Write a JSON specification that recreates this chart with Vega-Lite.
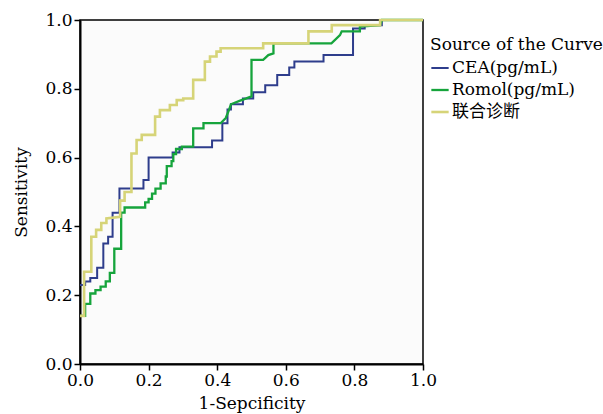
{
  "$schema": "https://vega.github.io/schema/vega-lite/v6.json",
  "width": 343,
  "height": 344,
  "autosize": {"type": "none"},
  "padding": {"left": 80, "top": 20, "right": 180, "bottom": 50},
  "background": "white",
  "config": {
    "view": {"fill": "#fbfbfb", "stroke": "#000", "strokeWidth": 1.5},
    "font": "DejaVu Serif",
    "axis": {"domainColor": "#000", "domainWidth": 2, "tickColor": "#000", "tickWidth": 1.5, "tickSize": 6, "labelFont": "DejaVu Serif", "labelFontSize": 17, "labelColor": "#000", "titleFont": "DejaVu Serif", "titleFontSize": 17, "titleFontWeight": "normal", "titleColor": "#000", "grid": false, "labelFlush": false}
  },
  "data": {"values": [
    {"series": "CEA(pg/mL)", "i": 1, "x": 0, "y": 0.23},
    {"series": "CEA(pg/mL)", "i": 2, "x": 0.015, "y": 0.23},
    {"series": "CEA(pg/mL)", "i": 3, "x": 0.015, "y": 0.24},
    {"series": "CEA(pg/mL)", "i": 4, "x": 0.03, "y": 0.24},
    {"series": "CEA(pg/mL)", "i": 5, "x": 0.03, "y": 0.25},
    {"series": "CEA(pg/mL)", "i": 6, "x": 0.05, "y": 0.25},
    {"series": "CEA(pg/mL)", "i": 7, "x": 0.05, "y": 0.28},
    {"series": "CEA(pg/mL)", "i": 8, "x": 0.068, "y": 0.28},
    {"series": "CEA(pg/mL)", "i": 9, "x": 0.068, "y": 0.35},
    {"series": "CEA(pg/mL)", "i": 10, "x": 0.082, "y": 0.35},
    {"series": "CEA(pg/mL)", "i": 11, "x": 0.082, "y": 0.37},
    {"series": "CEA(pg/mL)", "i": 12, "x": 0.095, "y": 0.37},
    {"series": "CEA(pg/mL)", "i": 13, "x": 0.095, "y": 0.44},
    {"series": "CEA(pg/mL)", "i": 14, "x": 0.115, "y": 0.44},
    {"series": "CEA(pg/mL)", "i": 15, "x": 0.115, "y": 0.51},
    {"series": "CEA(pg/mL)", "i": 16, "x": 0.185, "y": 0.51},
    {"series": "CEA(pg/mL)", "i": 17, "x": 0.185, "y": 0.535},
    {"series": "CEA(pg/mL)", "i": 18, "x": 0.2, "y": 0.535},
    {"series": "CEA(pg/mL)", "i": 19, "x": 0.2, "y": 0.6},
    {"series": "CEA(pg/mL)", "i": 20, "x": 0.27, "y": 0.6},
    {"series": "CEA(pg/mL)", "i": 21, "x": 0.27, "y": 0.615},
    {"series": "CEA(pg/mL)", "i": 22, "x": 0.29, "y": 0.615},
    {"series": "CEA(pg/mL)", "i": 23, "x": 0.29, "y": 0.63},
    {"series": "CEA(pg/mL)", "i": 24, "x": 0.385, "y": 0.63},
    {"series": "CEA(pg/mL)", "i": 25, "x": 0.385, "y": 0.65},
    {"series": "CEA(pg/mL)", "i": 26, "x": 0.415, "y": 0.65},
    {"series": "CEA(pg/mL)", "i": 27, "x": 0.415, "y": 0.7},
    {"series": "CEA(pg/mL)", "i": 28, "x": 0.43, "y": 0.7},
    {"series": "CEA(pg/mL)", "i": 29, "x": 0.43, "y": 0.74},
    {"series": "CEA(pg/mL)", "i": 30, "x": 0.44, "y": 0.74},
    {"series": "CEA(pg/mL)", "i": 31, "x": 0.44, "y": 0.755},
    {"series": "CEA(pg/mL)", "i": 32, "x": 0.475, "y": 0.755},
    {"series": "CEA(pg/mL)", "i": 33, "x": 0.475, "y": 0.772},
    {"series": "CEA(pg/mL)", "i": 34, "x": 0.505, "y": 0.772},
    {"series": "CEA(pg/mL)", "i": 35, "x": 0.505, "y": 0.79},
    {"series": "CEA(pg/mL)", "i": 36, "x": 0.54, "y": 0.79},
    {"series": "CEA(pg/mL)", "i": 37, "x": 0.54, "y": 0.81},
    {"series": "CEA(pg/mL)", "i": 38, "x": 0.575, "y": 0.81},
    {"series": "CEA(pg/mL)", "i": 39, "x": 0.575, "y": 0.84},
    {"series": "CEA(pg/mL)", "i": 40, "x": 0.61, "y": 0.84},
    {"series": "CEA(pg/mL)", "i": 41, "x": 0.61, "y": 0.862},
    {"series": "CEA(pg/mL)", "i": 42, "x": 0.625, "y": 0.862},
    {"series": "CEA(pg/mL)", "i": 43, "x": 0.625, "y": 0.879},
    {"series": "CEA(pg/mL)", "i": 44, "x": 0.71, "y": 0.879},
    {"series": "CEA(pg/mL)", "i": 45, "x": 0.71, "y": 0.898},
    {"series": "CEA(pg/mL)", "i": 46, "x": 0.796, "y": 0.898},
    {"series": "CEA(pg/mL)", "i": 47, "x": 0.796, "y": 0.975},
    {"series": "CEA(pg/mL)", "i": 48, "x": 0.83, "y": 0.975},
    {"series": "CEA(pg/mL)", "i": 49, "x": 0.83, "y": 0.985},
    {"series": "CEA(pg/mL)", "i": 50, "x": 0.88, "y": 0.985},
    {"series": "CEA(pg/mL)", "i": 51, "x": 0.88, "y": 1.0},
    {"series": "CEA(pg/mL)", "i": 52, "x": 1.0, "y": 1.0},

    {"series": "Romol(pg/mL)", "i": 1, "x": 0, "y": 0.14},
    {"series": "Romol(pg/mL)", "i": 2, "x": 0.015, "y": 0.14},
    {"series": "Romol(pg/mL)", "i": 3, "x": 0.015, "y": 0.175},
    {"series": "Romol(pg/mL)", "i": 4, "x": 0.03, "y": 0.175},
    {"series": "Romol(pg/mL)", "i": 5, "x": 0.03, "y": 0.205},
    {"series": "Romol(pg/mL)", "i": 6, "x": 0.045, "y": 0.205},
    {"series": "Romol(pg/mL)", "i": 7, "x": 0.045, "y": 0.215},
    {"series": "Romol(pg/mL)", "i": 8, "x": 0.06, "y": 0.215},
    {"series": "Romol(pg/mL)", "i": 9, "x": 0.06, "y": 0.225},
    {"series": "Romol(pg/mL)", "i": 10, "x": 0.075, "y": 0.225},
    {"series": "Romol(pg/mL)", "i": 11, "x": 0.075, "y": 0.24},
    {"series": "Romol(pg/mL)", "i": 12, "x": 0.087, "y": 0.24},
    {"series": "Romol(pg/mL)", "i": 13, "x": 0.087, "y": 0.265},
    {"series": "Romol(pg/mL)", "i": 14, "x": 0.1, "y": 0.265},
    {"series": "Romol(pg/mL)", "i": 15, "x": 0.1, "y": 0.335},
    {"series": "Romol(pg/mL)", "i": 16, "x": 0.12, "y": 0.335},
    {"series": "Romol(pg/mL)", "i": 17, "x": 0.12, "y": 0.44},
    {"series": "Romol(pg/mL)", "i": 18, "x": 0.13, "y": 0.44},
    {"series": "Romol(pg/mL)", "i": 19, "x": 0.13, "y": 0.455},
    {"series": "Romol(pg/mL)", "i": 20, "x": 0.19, "y": 0.455},
    {"series": "Romol(pg/mL)", "i": 21, "x": 0.19, "y": 0.47},
    {"series": "Romol(pg/mL)", "i": 22, "x": 0.2, "y": 0.47},
    {"series": "Romol(pg/mL)", "i": 23, "x": 0.2, "y": 0.48},
    {"series": "Romol(pg/mL)", "i": 24, "x": 0.21, "y": 0.48},
    {"series": "Romol(pg/mL)", "i": 25, "x": 0.21, "y": 0.495},
    {"series": "Romol(pg/mL)", "i": 26, "x": 0.22, "y": 0.495},
    {"series": "Romol(pg/mL)", "i": 27, "x": 0.22, "y": 0.51},
    {"series": "Romol(pg/mL)", "i": 28, "x": 0.235, "y": 0.51},
    {"series": "Romol(pg/mL)", "i": 29, "x": 0.235, "y": 0.525},
    {"series": "Romol(pg/mL)", "i": 30, "x": 0.25, "y": 0.525},
    {"series": "Romol(pg/mL)", "i": 31, "x": 0.25, "y": 0.545},
    {"series": "Romol(pg/mL)", "i": 32, "x": 0.253, "y": 0.545},
    {"series": "Romol(pg/mL)", "i": 33, "x": 0.253, "y": 0.575},
    {"series": "Romol(pg/mL)", "i": 34, "x": 0.267, "y": 0.575},
    {"series": "Romol(pg/mL)", "i": 35, "x": 0.267, "y": 0.59},
    {"series": "Romol(pg/mL)", "i": 36, "x": 0.272, "y": 0.59},
    {"series": "Romol(pg/mL)", "i": 37, "x": 0.272, "y": 0.61},
    {"series": "Romol(pg/mL)", "i": 38, "x": 0.28, "y": 0.61},
    {"series": "Romol(pg/mL)", "i": 39, "x": 0.28, "y": 0.625},
    {"series": "Romol(pg/mL)", "i": 40, "x": 0.297, "y": 0.625},
    {"series": "Romol(pg/mL)", "i": 41, "x": 0.297, "y": 0.632},
    {"series": "Romol(pg/mL)", "i": 42, "x": 0.33, "y": 0.632},
    {"series": "Romol(pg/mL)", "i": 43, "x": 0.33, "y": 0.685},
    {"series": "Romol(pg/mL)", "i": 44, "x": 0.36, "y": 0.685},
    {"series": "Romol(pg/mL)", "i": 45, "x": 0.36, "y": 0.7},
    {"series": "Romol(pg/mL)", "i": 46, "x": 0.41, "y": 0.7},
    {"series": "Romol(pg/mL)", "i": 47, "x": 0.425, "y": 0.715},
    {"series": "Romol(pg/mL)", "i": 48, "x": 0.435, "y": 0.74},
    {"series": "Romol(pg/mL)", "i": 49, "x": 0.44, "y": 0.755},
    {"series": "Romol(pg/mL)", "i": 50, "x": 0.465, "y": 0.765},
    {"series": "Romol(pg/mL)", "i": 51, "x": 0.485, "y": 0.772},
    {"series": "Romol(pg/mL)", "i": 52, "x": 0.5, "y": 0.778},
    {"series": "Romol(pg/mL)", "i": 53, "x": 0.5, "y": 0.884},
    {"series": "Romol(pg/mL)", "i": 54, "x": 0.534, "y": 0.884},
    {"series": "Romol(pg/mL)", "i": 55, "x": 0.549, "y": 0.898},
    {"series": "Romol(pg/mL)", "i": 56, "x": 0.564, "y": 0.903},
    {"series": "Romol(pg/mL)", "i": 57, "x": 0.564, "y": 0.932},
    {"series": "Romol(pg/mL)", "i": 58, "x": 0.733, "y": 0.932},
    {"series": "Romol(pg/mL)", "i": 59, "x": 0.758, "y": 0.956},
    {"series": "Romol(pg/mL)", "i": 60, "x": 0.763, "y": 0.967},
    {"series": "Romol(pg/mL)", "i": 61, "x": 0.816, "y": 0.967},
    {"series": "Romol(pg/mL)", "i": 62, "x": 0.816, "y": 0.981},
    {"series": "Romol(pg/mL)", "i": 63, "x": 0.875, "y": 0.985},
    {"series": "Romol(pg/mL)", "i": 64, "x": 0.88, "y": 1.0},
    {"series": "Romol(pg/mL)", "i": 65, "x": 1.0, "y": 1.0},

    {"series": "联合诊断", "i": 1, "x": 0, "y": 0.14},
    {"series": "联合诊断", "i": 2, "x": 0.012, "y": 0.14},
    {"series": "联合诊断", "i": 3, "x": 0.012, "y": 0.268},
    {"series": "联合诊断", "i": 4, "x": 0.033, "y": 0.268},
    {"series": "联合诊断", "i": 5, "x": 0.033, "y": 0.37},
    {"series": "联合诊断", "i": 6, "x": 0.047, "y": 0.37},
    {"series": "联合诊断", "i": 7, "x": 0.047, "y": 0.39},
    {"series": "联合诊断", "i": 8, "x": 0.062, "y": 0.39},
    {"series": "联合诊断", "i": 9, "x": 0.062, "y": 0.41},
    {"series": "联合诊断", "i": 10, "x": 0.077, "y": 0.41},
    {"series": "联合诊断", "i": 11, "x": 0.077, "y": 0.423},
    {"series": "联合诊断", "i": 12, "x": 0.117, "y": 0.428},
    {"series": "联合诊断", "i": 13, "x": 0.117, "y": 0.475},
    {"series": "联合诊断", "i": 14, "x": 0.13, "y": 0.475},
    {"series": "联合诊断", "i": 15, "x": 0.13, "y": 0.5},
    {"series": "联合诊断", "i": 16, "x": 0.15, "y": 0.5},
    {"series": "联合诊断", "i": 17, "x": 0.15, "y": 0.612},
    {"series": "联合诊断", "i": 18, "x": 0.165, "y": 0.612},
    {"series": "联合诊断", "i": 19, "x": 0.165, "y": 0.651},
    {"series": "联合诊断", "i": 20, "x": 0.18, "y": 0.651},
    {"series": "联合诊断", "i": 21, "x": 0.18, "y": 0.666},
    {"series": "联合诊断", "i": 22, "x": 0.219, "y": 0.666},
    {"series": "联合诊断", "i": 23, "x": 0.219, "y": 0.719},
    {"series": "联合诊断", "i": 24, "x": 0.233, "y": 0.719},
    {"series": "联合诊断", "i": 25, "x": 0.233, "y": 0.738},
    {"series": "联合诊断", "i": 26, "x": 0.262, "y": 0.738},
    {"series": "联合诊断", "i": 27, "x": 0.262, "y": 0.753},
    {"series": "联合诊断", "i": 28, "x": 0.282, "y": 0.753},
    {"series": "联合诊断", "i": 29, "x": 0.282, "y": 0.767},
    {"series": "联合诊断", "i": 30, "x": 0.301, "y": 0.767},
    {"series": "联合诊断", "i": 31, "x": 0.301, "y": 0.772},
    {"series": "联合诊断", "i": 32, "x": 0.33, "y": 0.772},
    {"series": "联合诊断", "i": 33, "x": 0.33, "y": 0.826},
    {"series": "联合诊断", "i": 34, "x": 0.364, "y": 0.826},
    {"series": "联合诊断", "i": 35, "x": 0.364, "y": 0.879},
    {"series": "联合诊断", "i": 36, "x": 0.379, "y": 0.879},
    {"series": "联合诊断", "i": 37, "x": 0.379, "y": 0.894},
    {"series": "联合诊断", "i": 38, "x": 0.398, "y": 0.894},
    {"series": "联合诊断", "i": 39, "x": 0.398, "y": 0.908},
    {"series": "联合诊断", "i": 40, "x": 0.41, "y": 0.908},
    {"series": "联合诊断", "i": 41, "x": 0.41, "y": 0.918},
    {"series": "联合诊断", "i": 42, "x": 0.534, "y": 0.918},
    {"series": "联合诊断", "i": 43, "x": 0.534, "y": 0.932},
    {"series": "联合诊断", "i": 44, "x": 0.666, "y": 0.932},
    {"series": "联合诊断", "i": 45, "x": 0.666, "y": 0.967},
    {"series": "联合诊断", "i": 46, "x": 0.734, "y": 0.967},
    {"series": "联合诊断", "i": 47, "x": 0.734, "y": 0.985},
    {"series": "联合诊断", "i": 48, "x": 0.875, "y": 0.985},
    {"series": "联合诊断", "i": 49, "x": 0.875, "y": 1.0},
    {"series": "联合诊断", "i": 50, "x": 1.0, "y": 1.0}
  ]},
  "mark": {"type": "line", "strokeJoin": "miter"},
  "encoding": {
    "x": {"field": "x", "type": "quantitative", "scale": {"domain": [0, 1], "nice": false}, "axis": {"values": [0, 0.2, 0.4, 0.6, 0.8, 1], "format": ".1f", "title": "1-Sepcificity", "labelPadding": 2, "titlePadding": 7}},
    "y": {"field": "y", "type": "quantitative", "scale": {"domain": [0, 1], "nice": false}, "axis": {"values": [0, 0.2, 0.4, 0.6, 0.8, 1], "format": ".1f", "title": "Sensitivity", "labelPadding": 2, "titlePadding": 14}},
    "color": {"field": "series", "type": "nominal",
      "scale": {"domain": ["CEA(pg/mL)", "Romol(pg/mL)", "联合诊断"], "range": ["#2e3d8c", "#16a43c", "#d6d478"]},
      "legend": {"orient": "none", "legendX": 350, "legendY": 17, "title": "Source of the Curve", "titleFont": "DejaVu Serif", "titleFontSize": 17, "titleFontWeight": "normal", "titleColor": "#000", "titlePadding": 4, "labelFont": "DejaVu Serif, Noto Sans CJK SC", "labelFontSize": 17, "labelColor": "#000", "labelOffset": 2, "symbolType": "stroke", "symbolSize": 300, "symbolStrokeWidth": 1.6, "rowPadding": 4, "padding": 0}},
    "strokeWidth": {"field": "series", "type": "nominal", "scale": {"domain": ["CEA(pg/mL)", "Romol(pg/mL)", "联合诊断"], "range": [2, 2.6, 1.2]}, "legend": null},
    "order": {"field": "i", "type": "quantitative"}
  }
}
